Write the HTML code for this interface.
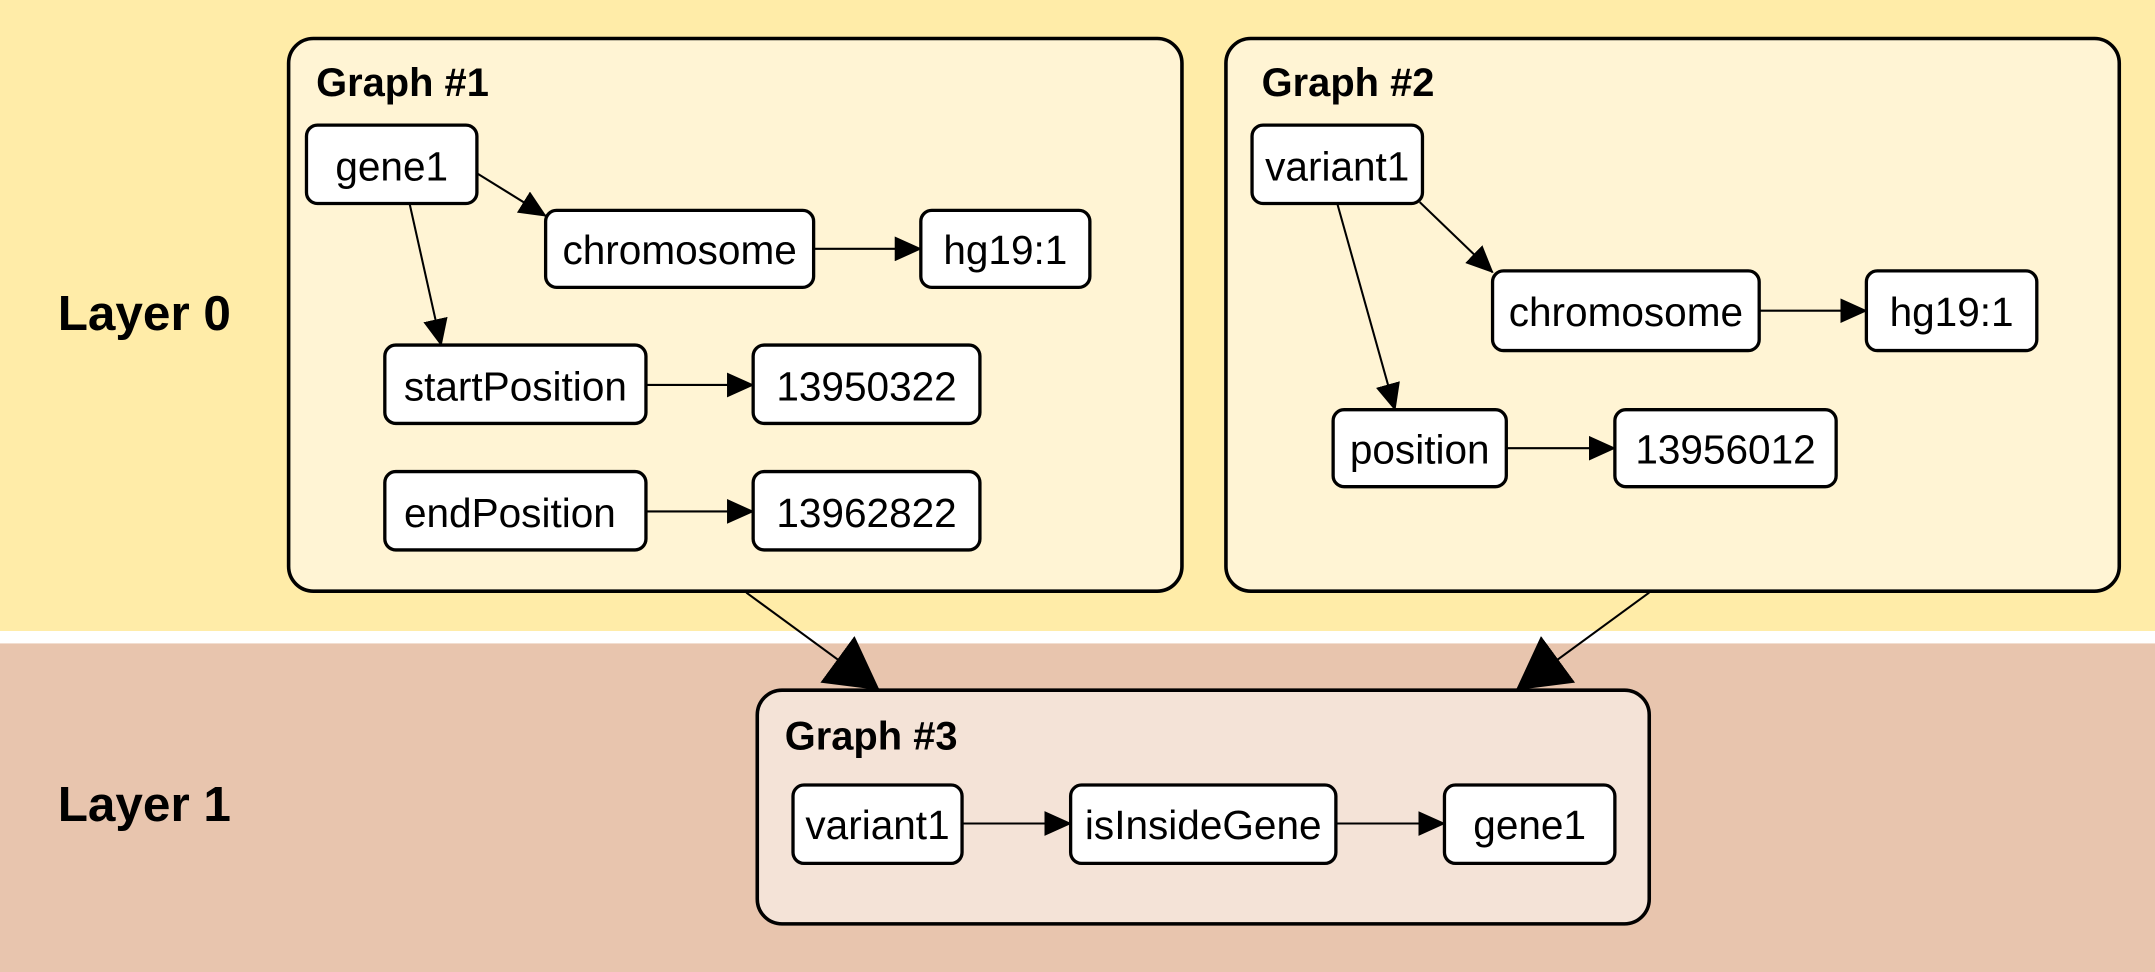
<!DOCTYPE html>
<html><head><meta charset="utf-8"><style>
html,body{margin:0;padding:0;width:2155px;height:972px;overflow:hidden;background:#fff}
svg{display:block}
text{font-family:"Liberation Sans",Arial,sans-serif;fill:#000}
.n{font-size:29.5px;text-anchor:middle;dominant-baseline:central}
.t{font-size:29px;font-weight:bold}
.l{font-size:36px;font-weight:bold}
.g{stroke:#000;stroke-width:2.6}
.nb{fill:#fff;stroke:#000;stroke-width:2.4}
.e{stroke:#000;stroke-width:1.5;fill:none}
</style></head><body>
<svg width="2155" height="972" viewBox="0 0 1568 707" preserveAspectRatio="none" xmlns="http://www.w3.org/2000/svg">
<defs>
<marker id="a" markerUnits="userSpaceOnUse" markerWidth="20" markerHeight="18" refX="19" refY="9" orient="auto"><path d="M0,0 L20,9 L0,18 Z" fill="#000"/></marker>
<marker id="b" markerUnits="userSpaceOnUse" markerWidth="40" markerHeight="44" refX="38" refY="21" orient="auto"><path d="M0,0 L38,21 L0,42 Z" fill="#000"/></marker>
</defs>
<rect x="0" y="0" width="1568" height="459" fill="#ffeca8"/>
<rect x="0" y="459" width="1568" height="9" fill="#fff"/>
<rect x="0" y="468" width="1568" height="239" fill="#e8c5ae"/>
<text class="l" x="42" y="240">Layer 0</text>
<text class="l" x="42" y="597">Layer 1</text>

<rect class="g" x="210" y="28" width="650" height="402" rx="18" fill="#fff4d4"/>
<rect class="g" x="892" y="28" width="650" height="402" rx="18" fill="#fff4d4"/>
<rect class="g" x="551" y="502" width="649" height="170" rx="18" fill="#f4e3d7"/>

<text class="t" x="230" y="70">Graph #1</text>
<text class="t" x="918" y="70">Graph #2</text>
<text class="t" x="571" y="545">Graph #3</text>

<line class="e" x1="543" y1="431" x2="640" y2="502" stroke-width="2.2" marker-end="url(#b)"/>
<line class="e" x1="1200" y1="431" x2="1103" y2="502" stroke-width="2.2" marker-end="url(#b)"/>

<line class="e" x1="347" y1="126" x2="397" y2="157" marker-end="url(#a)"/>
<line class="e" x1="298" y1="148" x2="321" y2="251" marker-end="url(#a)"/>
<line class="e" x1="592" y1="181" x2="670" y2="181" marker-end="url(#a)"/>
<line class="e" x1="470" y1="280" x2="548" y2="280" marker-end="url(#a)"/>
<line class="e" x1="470" y1="372" x2="548" y2="372" marker-end="url(#a)"/>
<line class="e" x1="1033" y1="147" x2="1086" y2="198" marker-end="url(#a)"/>
<line class="e" x1="973" y1="148" x2="1015" y2="298" marker-end="url(#a)"/>
<line class="e" x1="1280" y1="226" x2="1358" y2="226" marker-end="url(#a)"/>
<line class="e" x1="1096" y1="326" x2="1175" y2="326" marker-end="url(#a)"/>
<line class="e" x1="700" y1="599" x2="779" y2="599" marker-end="url(#a)"/>
<line class="e" x1="972" y1="599" x2="1051" y2="599" marker-end="url(#a)"/>

<rect class="nb" x="223" y="91" width="124" height="57" rx="8"/><text class="n" x="285" y="121">gene1</text>
<rect class="nb" x="397" y="153" width="195" height="56" rx="8"/><text class="n" x="494.5" y="182">chromosome</text>
<rect class="nb" x="670" y="153" width="123" height="56" rx="8"/><text class="n" x="731.5" y="182">hg19:1</text>
<rect class="nb" x="280" y="251" width="190" height="57" rx="8"/><text class="n" x="375" y="281">startPosition</text>
<rect class="nb" x="548" y="251" width="165" height="57" rx="8"/><text class="n" x="630.5" y="281">13950322</text>
<rect class="nb" x="280" y="343" width="190" height="57" rx="8"/><text class="n" x="371" y="373">endPosition</text>
<rect class="nb" x="548" y="343" width="165" height="57" rx="8"/><text class="n" x="630.5" y="373">13962822</text>

<rect class="nb" x="911" y="91" width="124" height="57" rx="8"/><text class="n" x="973" y="121">variant1</text>
<rect class="nb" x="1086" y="197" width="194" height="58" rx="8"/><text class="n" x="1183" y="227">chromosome</text>
<rect class="nb" x="1358" y="197" width="124" height="58" rx="8"/><text class="n" x="1420" y="227">hg19:1</text>
<rect class="nb" x="970" y="298" width="126" height="56" rx="8"/><text class="n" x="1033" y="327">position</text>
<rect class="nb" x="1175" y="298" width="161" height="56" rx="8"/><text class="n" x="1255.5" y="327">13956012</text>

<rect class="nb" x="577" y="571" width="123" height="57" rx="8"/><text class="n" x="638.5" y="600">variant1</text>
<rect class="nb" x="779" y="571" width="193" height="57" rx="8"/><text class="n" x="875.5" y="600">isInsideGene</text>
<rect class="nb" x="1051" y="571" width="124" height="57" rx="8"/><text class="n" x="1113" y="600">gene1</text>
</svg>
</body></html>
